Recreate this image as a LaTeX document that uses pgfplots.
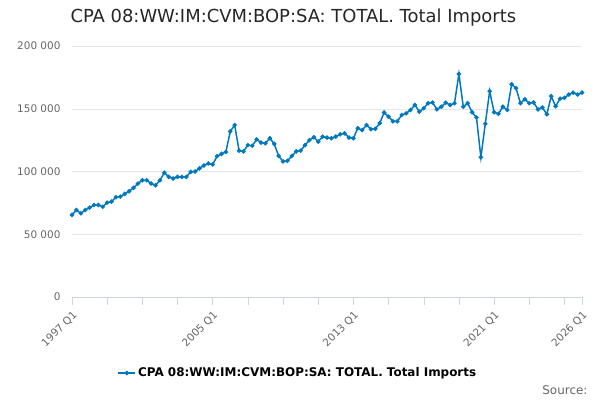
\documentclass[border=0pt]{standalone}
\usepackage{pgfplots}
\pgfplotsset{compat=1.18}
\usepackage{fontspec}
\setmainfont{DejaVu Sans}
\definecolor{ln}{RGB}{0,120,190}
\definecolor{gr}{RGB}{230,230,230}
\definecolor{ax}{RGB}{204,214,235}
\definecolor{tx}{RGB}{102,102,102}
\begin{document}
\begin{tikzpicture}
\begin{axis}[
  scale only axis, width=510bp, height=251bp,
  xmin=0, xmax=116, ymin=0, ymax=200000,
  axis y line*=left, axis x line*=bottom,
  y axis line style={draw=none},
  x axis line style={draw=ax},
  scaled y ticks=false,
  ytick={0,50000,100000,150000,200000},
  yticklabels={0,50 000,100 000,150 000,200 000},
  ymajorgrids, grid style={gr},
  major y tick style={draw=none},
  xtick={0,32,64,96,116},
  xticklabels={1997 Q1,2005 Q1,2013 Q1,2021 Q1,2026 Q1},
  minor xtick={8,16,24,40,48,56,72,80,88,104,112},
  x tick style={draw=ax, thin},
  tick align=outside, major tick length=8bp, minor tick length=8bp,
  xticklabel style={rotate=45, anchor=north east, font=\fontsize{10.5}{12}\selectfont, text=tx},
  yticklabel style={font=\fontsize{10.5}{12}\selectfont, text=tx},
  legend style={at={(rel axis cs:0.443,-0.303)}, anchor=center, draw=none, font=\bfseries\fontsize{12}{14}\selectfont},
  legend cell align=left,
  clip=false,
]
\addplot[ln, line width=1.5pt, mark=*, mark size=1.4pt] table[x=i,y=v] {
i v
0 65400
1 69300
2 66700
3 69300
4 71200
5 73300
6 73300
7 71900
8 75200
9 76000
10 79500
11 80000
12 82200
13 84300
14 87000
15 90400
16 93000
17 93000
18 90400
19 89000
20 93000
21 99000
22 95700
23 94400
24 95700
25 95700
26 95700
27 99700
28 100000
29 102500
30 104800
31 106400
32 105600
33 112200
34 114000
35 115600
36 132000
37 137000
38 116600
39 116000
40 121000
41 120500
42 125600
43 123000
44 122500
45 126500
46 122000
47 112400
48 108000
49 108500
50 112400
51 116000
52 116600
53 121000
54 125000
55 127300
56 123800
57 127800
58 127000
59 126500
60 127800
61 129600
62 130400
63 127000
64 126500
65 134500
66 133000
67 137000
68 133700
69 134000
70 138500
71 147000
72 143700
73 140000
74 140000
75 145000
76 146300
77 149000
78 153000
79 147700
80 150400
81 154400
82 155000
83 149500
84 151600
85 154800
86 153000
87 154400
88 177700
89 151600
90 154400
91 147200
92 143000
93 111300
94 138000
95 164000
96 147200
97 146000
98 151600
99 149000
100 169500
101 166400
102 154400
103 157600
104 154400
105 155000
106 149500
107 151000
108 145600
109 160000
110 152000
111 158000
112 158700
113 161300
114 162800
115 161300
116 162800
};
\addlegendentry{CPA 08:WW:IM:CVM:BOP:SA: TOTAL. Total Imports}
\end{axis}
\node[anchor=west, font=\fontsize{18}{20}\selectfont, text=black!85] at (-5bp,279bp) {CPA 08:WW:IM:CVM:BOP:SA: TOTAL. Total Imports};
\node[anchor=east, font=\fontsize{12}{14}\selectfont, text=tx] at (519bp,-93bp) {Source:};
\path[use as bounding box] (-72bp,-103bp) rectangle (528bp,297bp);
\end{tikzpicture}
\end{document}
